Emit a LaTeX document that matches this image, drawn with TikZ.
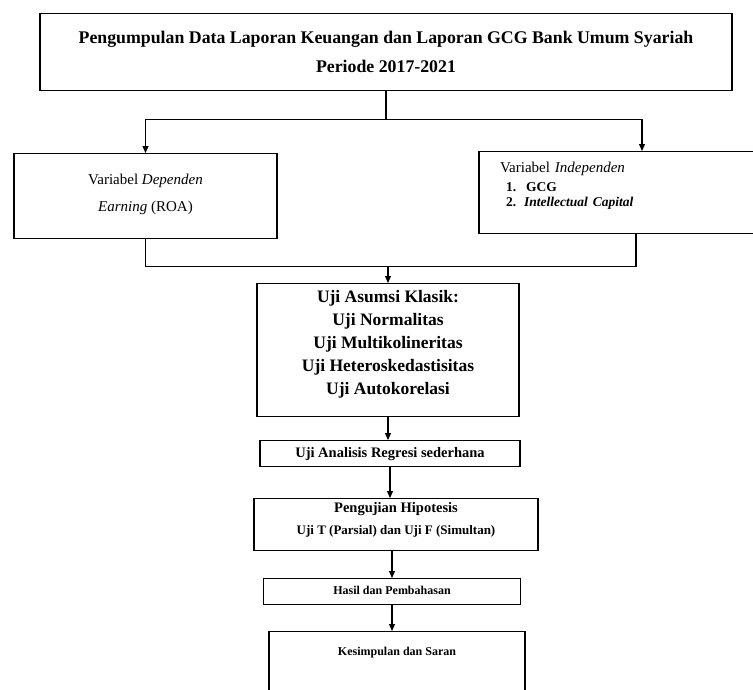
\documentclass[tikz,border=0pt]{standalone}
\usepackage{fontspec}
\setmainfont{Liberation Serif}
\usepackage{tikz}
\usetikzlibrary{arrows.meta,positioning}
\newcommand{\baris}[2][c]{\begin{tabular}[t]{@{}#1@{}}#2\end{tabular}}

\begin{document}
\begin{tikzpicture}[
  x=1pt, y=-1pt,
  box/.style={rectangle, draw=black, line width=1.4pt, align=center,
    anchor=north, inner xsep=2pt, inner ysep=4pt},
  line/.style={line width=1.1pt, draw=black},
  arrow/.style={line, -{Triangle[length=7pt,width=6pt]}}
]
\useasboundingbox[fill=white] (0,0) rectangle (753,689);

% baris atas
\node[box, minimum width=692pt, text height=26pt, text depth=43pt,
  font=\fontsize{17.8}{29}\selectfont\bfseries] (collect) at (386,13)
  {\baris{Pengumpulan Data Laporan Keuangan dan Laporan GCG Bank Umum Syariah\\Periode 2017-2021}};

% variabel
\node[box, minimum width=263pt, text height=27pt, text depth=50pt,
  font=\fontsize{15}{27}\selectfont] (dependen) at (145.5,153)
  {\baris{Variabel \textit{Dependen}\\\textit{Earning} (ROA)}};
\node[box, minimum width=326pt, text width=284pt, inner xsep=21pt, align=left,
  text height=17pt, text depth=57pt,
  font=\fontsize{15}{19}\selectfont] (independen) at (642,151)
  {\baris[l]{Variabel \textit{Independen}\\
   \hspace*{6pt}\fontsize{13.5}{15}\selectfont\textbf{1.\hspace{10pt}GCG}\\[-4pt]
   \hspace*{6pt}\fontsize{13.5}{15}\selectfont\textbf{2.\hspace{8pt}\textit{Intellectual Capital}}}};

% alur tengah
\node[box, minimum width=262pt, text height=15pt, text depth=110pt,
  font=\fontsize{17.5}{23}\selectfont\bfseries] (asumsi) at (388,283)
  {\baris{Uji Asumsi Klasik:\\Uji Normalitas\\Uji Multikolineritas\\Uji Heteroskedastisitas\\Uji Autokorelasi}};
\node[box, minimum width=260pt, text height=13pt, text depth=5pt,
  font=\fontsize{14.5}{15}\selectfont\bfseries] (regresi) at (390,440)
  {Uji Analisis Regresi sederhana};
\node[box, minimum width=284pt, text height=10pt, text depth=34pt,
  font=\fontsize{13}{22}\selectfont\bfseries] (hipotesis) at (396,498)
  {\baris{\fontsize{14.5}{22}\selectfont Pengujian Hipotesis\\Uji T (Parsial) dan Uji F (Simultan)}};
\node[box, minimum width=257pt, text height=12pt, text depth=6pt,
  font=\fontsize{12}{15}\selectfont\bfseries] (hasil) at (392,578)
  {Hasil dan Pembahasan};
\node[box, minimum width=256pt, text height=20pt, text depth=60pt,
  font=\fontsize{12}{15}\selectfont\bfseries] (simpulan) at (397,631)
  {Kesimpulan dan Saran};

% penghubung
\draw[arrow] (collect.south) -- ++(0,28) -| (dependen.north);
\draw[arrow] (collect.south) -- ++(0,28) -| (independen.north);
\draw[line] (dependen.south) -- ++(0,27) coordinate (gabung) -| ([xshift=-6pt]independen.south);
\draw[arrow] (asumsi.north |- gabung) -- (asumsi.north);
\draw[arrow] (asumsi.south) -- (asumsi.south |- regresi.north);
\draw[arrow] (regresi.south) -- (regresi.south |- hipotesis.north);
\draw[arrow] (hipotesis.south -| hasil.north) -- (hasil.north);
\draw[arrow] (hasil.south) -- (hasil.south |- simpulan.north);

\end{tikzpicture}
\end{document}
